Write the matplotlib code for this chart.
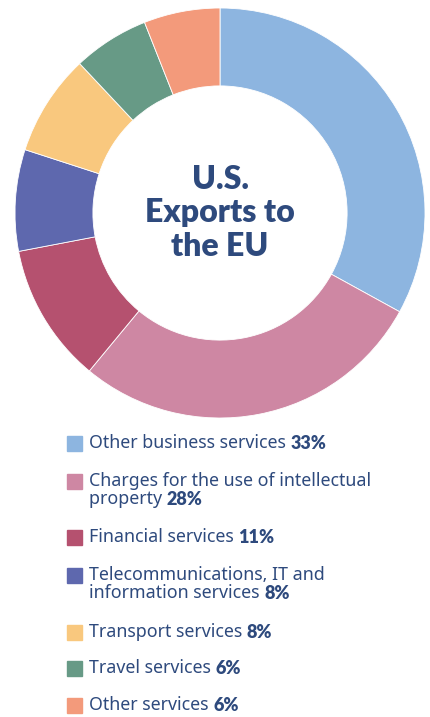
import numpy as np
import matplotlib.pyplot as plt

plt.rcParams['font.family'] = ['Noto Sans', 'DejaVu Sans']

labels = ['Other business services',
          'Charges for the use of intellectual\nproperty',
          'Financial services',
          'Telecommunications, IT and\ninformation services',
          'Transport services',
          'Travel services',
          'Other services']
values = [33, 28, 11, 8, 8, 6, 6]
colors = ['#8db5e0', '#ce87a3', '#b5516f', '#5e68ae', '#f9c87e', '#679a86', '#f39a7b']
navy = '#2e4a7d'

fig = plt.figure(figsize=(4.3, 7.17), dpi=100)
W, H = 430, 717

# donut
cx, cy, r = 220, 213, 205
ax = fig.add_axes([(cx - r) / W, 1 - (cy + r) / H, 2 * r / W, 2 * r / H])
ax.pie(values, colors=colors, startangle=90, counterclock=False,
       wedgeprops=dict(width=0.38, edgecolor='white', linewidth=0.6))
ax.set_xlim(-1, 1)
ax.set_ylim(-1, 1)
ax.set_aspect('equal')
ax.text(0, 0.0, 'U.S.\nExports to\nthe EU', ha='center', va='center',
        fontsize=23, fontweight='heavy', color=navy, linespacing=1.2,
        family=['Lato', 'DejaVu Sans'])

# legend
row_y = [443, 481, 537, 575, 632, 668, 705]
line_h = 18
for lab, v, c, y in zip(labels, values, colors, row_y):
    fig.patches.append(plt.Rectangle((67 / W, 1 - (y + 7.5) / H), 15 / W, 15 / H,
                                     transform=fig.transFigure, color=c))
    lines = lab.split('\n')
    for i, ln in enumerate(lines):
        yy = 1 - (y + i * line_h) / H
        t = fig.text(89 / W, yy, ln + (' ' if i == len(lines) - 1 else ''),
                     ha='left', va='center', fontsize=12.8, color=navy)
    plt.annotate(f'{v}%', xy=(1, 0), xycoords=t, ha='left', va='bottom',
                 fontsize=13, fontweight='heavy', color=navy,
                 family=['Lato', 'DejaVu Sans'])

fig.savefig('out.png', dpi=100)
